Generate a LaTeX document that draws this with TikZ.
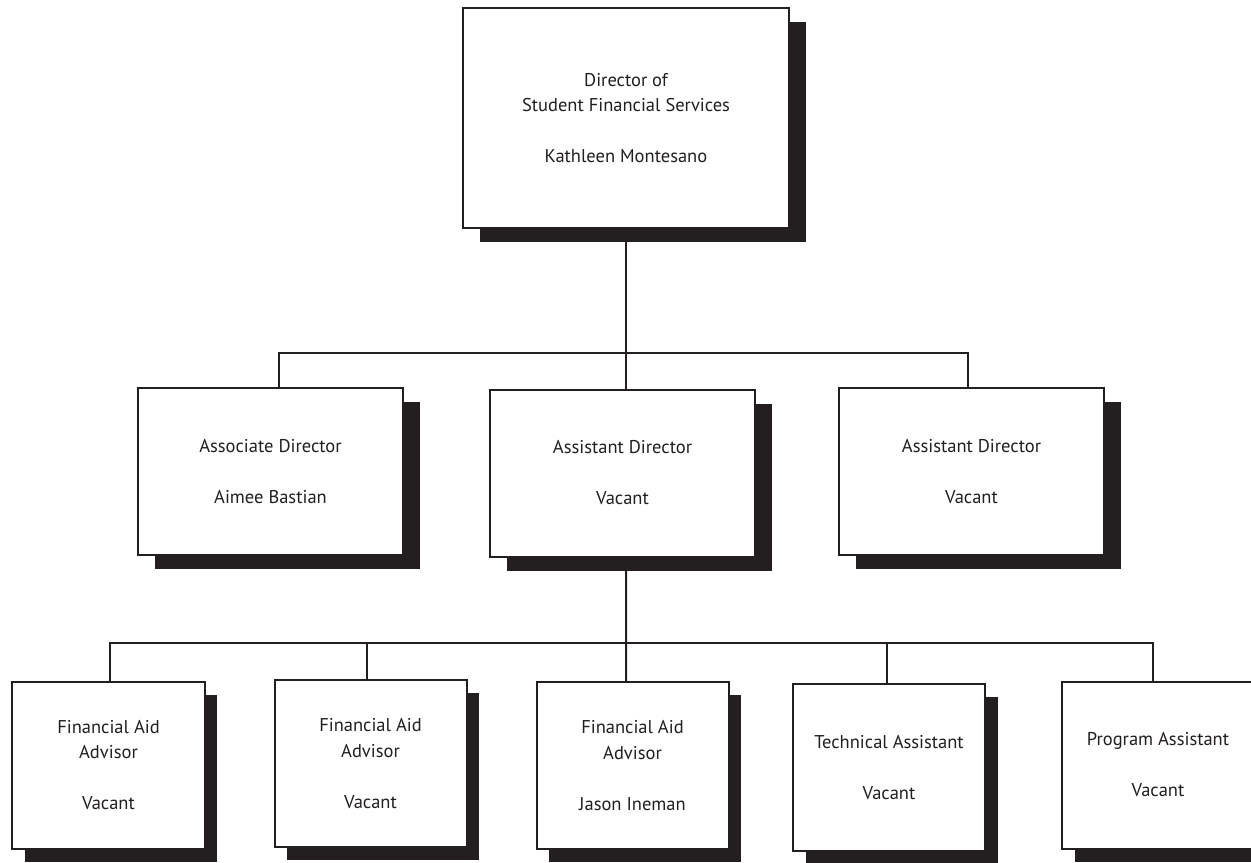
\documentclass[tikz,border=0pt]{standalone}
\usepackage{fontspec}
\setmainfont{PT Sans}
\usetikzlibrary{shadows}
\definecolor{ink}{HTML}{231F20}
\begin{document}
\begin{tikzpicture}[x=1bp,y=-1bp,
  wire/.style={draw=ink, line width=2bp},
  post/.style={draw=ink, line width=2bp, fill=white, align=center,
    inner sep=0pt, text=ink, font=\fontsize{18.5bp}{25.5bp}\selectfont},
  bigpost/.style={post, drop shadow={shadow xshift=17bp, shadow yshift=-14bp,
    opacity=1, fill=ink}},
  midpost/.style={bigpost, minimum width=265bp, minimum height=167bp},
  smallpost/.style={post, drop shadow={shadow xshift=12.5bp, shadow yshift=-13bp,
    opacity=1, fill=ink}, minimum width=192bp, minimum height=167bp}]
\clip (0,0) rectangle (1251,863);

% director
\node[bigpost, minimum width=326bp, minimum height=220bp] (top) at (626,118)
  {Director of\\Student Financial Services\\[25.5bp]Kathleen Montesano};

% second level
\node[midpost] (assoc) at (270.5,471.5) {Associate Director\\[25.5bp]Aimee Bastian};
\node[midpost] (asstA) at (622.5,473) {Assistant Director\\[25.5bp]Vacant};
\node[midpost] (asstB) at (971.5,471.5) {Assistant Director\\[25.5bp]Vacant};

% third level
\node[smallpost] (faa1) at (108.5,765) {Financial Aid\\Advisor\\[25.5bp]Vacant};
\node[smallpost] (faa2) at (370.5,763.5) {Financial Aid\\Advisor\\[25.5bp]Vacant};
\node[smallpost] (faa3) at (632.5,765.5) {Financial Aid\\Advisor\\[25.5bp]Jason Ineman};
\node[smallpost] (tech) at (889,767.5) {Technical Assistant\\[25.5bp]Vacant};
\node[smallpost] (prog) at (1158,765) {Program Assistant\\[25.5bp]Vacant};

% bus heights
\coordinate (busA) at (626,353);
\coordinate (busB) at (626,643);

% attachment points of the connectors
\coordinate (assocT) at ([xshift=8.5bp]assoc.north);
\coordinate (asstAT) at ([xshift=3.5bp]asstA.north);
\coordinate (asstAB) at ([xshift=3.5bp]asstA.south);
\coordinate (asstBT) at ([xshift=-3.5bp]asstB.north);
\coordinate (faa1T) at ([xshift=1.5bp]faa1.north);
\coordinate (faa2T) at ([xshift=-3.5bp]faa2.north);
\coordinate (faa3T) at ([xshift=-6.5bp]faa3.north);
\coordinate (techT) at ([xshift=-2bp]tech.north);
\coordinate (progT) at ([xshift=-5bp]prog.north);

% director to second level
\draw[wire] (top.south) -- (top.south |- busA);
\draw[wire] (assocT) |- (asstBT |- busA) -- (asstBT);
\draw[wire] (asstAT) -- (asstAT |- busA);

% assistant director to third level
\draw[wire] (asstAB) -- (faa3T);
\draw[wire] (faa1T) |- (progT |- busB) -- (progT);
\draw[wire] (faa2T) -- (faa2T |- busB);
\draw[wire] (techT) -- (techT |- busB);
\end{tikzpicture}
\end{document}
